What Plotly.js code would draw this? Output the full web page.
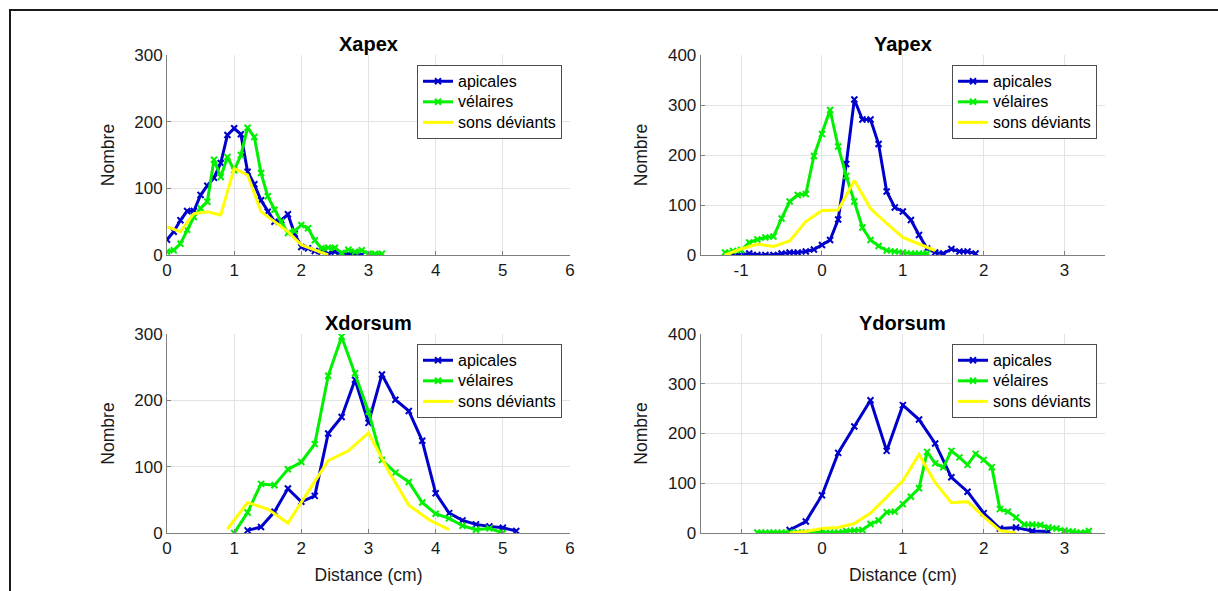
<!DOCTYPE html>
<html>
<head>
<meta charset="utf-8">
<script src="https://cdn.plot.ly/plotly-3.0.1.min.js"></script>
<style>
  html, body { margin: 0; padding: 0; background: #fff; overflow: hidden; }
  #wrap { position: relative; width: 1218px; height: 591px; overflow: hidden; }
  #chart { width: 1218px; height: 591px; }
  #frame { position: absolute; left: 8.5px; top: 8.5px; width: 1300px; height: 700px;
           border-top: 2px solid #1a1a1a; border-left: 2px solid #1a1a1a; pointer-events: none; }
</style>
</head>
<body>
<div id="wrap"><div id="chart"></div><div id="frame"></div></div>
<script>
// ---------- Data ----------
const seriesNames = ["apicales", "vélaires", "sons déviants"];
const panelTitles = ["Xapex", "Yapex", "Xdorsum", "Ydorsum"];
const xLabel = "Distance (cm)";
const yLabel = "Nombre";

// Xapex
const xapex_api_x = [0,0.1,0.2,0.3,0.4,0.5,0.6,0.7,0.8,0.9,1.0,1.1,1.2,1.3,1.4,1.5,1.6,1.7,1.8,1.9,2.0,2.1,2.2,2.3,2.4,2.5,2.6,2.7,2.8,2.9];
const xapex_api_y = [23,35,52,66,66,90,104,116,138,180,190,181,125,106,82,65,50,52,61,32,12,10,6,5,2,5,1,1,0,0];
const xapex_vel_x = [0,0.1,0.2,0.3,0.4,0.5,0.6,0.7,0.8,0.9,1.0,1.1,1.2,1.3,1.4,1.5,1.6,1.7,1.8,1.9,2.0,2.1,2.2,2.3,2.4,2.5,2.6,2.7,2.8,2.9,3.0,3.1,3.2];
const xapex_vel_y = [5,7,17,38,57,70,80,143,117,147,127,150,191,177,123,88,68,50,33,36,45,40,22,10,11,11,3,8,5,7,2,2,2];
const xapex_dev_x = [0,0.2,0.4,0.6,0.8,1.0,1.2,1.4,1.6,1.8,2.0,2.2,2.4];
const xapex_dev_y = [42,35,62,65,60,130,120,65,50,35,15,7,0];

// Yapex
const yapex_api_x = [-1.1,-1.0,-0.9,-0.8,-0.7,-0.6,-0.5,-0.4,-0.3,-0.2,-0.1,0.0,0.1,0.2,0.3,0.4,0.5,0.6,0.7,0.8,0.9,1.0,1.1,1.2,1.3,1.4,1.5,1.6,1.7,1.8,1.9];
const yapex_api_y = [2,0,3,0,0,0,3,5,5,7,11,20,30,71,182,311,271,271,222,127,95,87,70,40,13,5,3,12,7,7,3];
const yapex_vel_x = [-1.2,-1.1,-1.0,-0.9,-0.8,-0.7,-0.6,-0.5,-0.4,-0.3,-0.2,-0.1,0.0,0.1,0.2,0.3,0.4,0.5,0.6,0.7,0.8,0.9,1.0,1.1,1.2,1.3];
const yapex_vel_y = [5,8,10,25,31,35,37,73,107,120,122,198,242,290,217,158,107,55,30,18,9,7,5,3,3,3];
const yapex_dev_x = [-1.2,-1.0,-0.8,-0.6,-0.4,-0.2,0.0,0.2,0.4,0.6,0.8,1.0,1.2,1.4];
const yapex_dev_y = [0,12,22,17,28,67,89,90,149,93,63,35,22,9];

// Xdorsum
const xdors_api_x = [1.2,1.4,1.6,1.8,2.0,2.2,2.4,2.6,2.8,3.0,3.2,3.4,3.6,3.8,4.0,4.2,4.4,4.6,4.8,5.0,5.2];
const xdors_api_y = [4,9,32,67,47,56,150,175,231,166,239,201,184,139,60,30,19,13,10,8,3];
const xdors_vel_x = [1.0,1.2,1.4,1.6,1.8,2.0,2.2,2.4,2.6,2.8,3.0,3.2,3.4,3.6,3.8,4.0,4.2,4.4,4.6,4.8,5.0];
const xdors_vel_y = [0,31,74,72,96,107,134,237,296,241,183,110,91,77,46,29,22,11,5,7,0];
const xdors_dev_x = [0.9,1.2,1.5,1.8,2.1,2.4,2.7,3.0,3.3,3.6,3.9,4.2];
const xdors_dev_y = [6,46,36,15,62,109,124,151,93,42,20,5];

// Ydorsum
const ydors_api_x = [-0.4,-0.2,0.0,0.2,0.4,0.6,0.8,1.0,1.2,1.4,1.6,1.8,2.0,2.2,2.4,2.6,2.8];
const ydors_api_y = [6,23,76,161,214,267,165,257,228,180,112,83,40,9,11,4,3];
const ydors_vel_x = [-0.8,-0.7,-0.6,-0.5,-0.4,-0.3,-0.2,-0.1,0.0,0.1,0.2,0.3,0.4,0.5,0.6,0.7,0.8,0.9,1.0,1.1,1.2,1.3,1.4,1.5,1.6,1.7,1.8,1.9,2.0,2.1,2.2,2.3,2.4,2.5,2.6,2.7,2.8,2.9,3.0,3.1,3.2,3.3];
const ydors_vel_y = [1,1,1,1,1,1,1,1,2,1,1,4,5,6,18,25,42,43,58,73,90,163,140,132,165,152,137,159,147,132,48,43,31,17,17,16,11,9,5,3,1,4];
const ydors_dev_x = [-0.4,-0.2,0.0,0.2,0.4,0.6,0.8,1.0,1.2,1.4,1.6,1.8,2.0,2.2,2.4];
const ydors_dev_y = [0,3,9,11,19,40,72,105,158,101,61,63,33,5,0];

const xTicksLeft = [0,1,2,3,4,5,6];
const xTicksRight = [-1,0,1,2,3];
const yTicks300 = [0,100,200,300];
const yTicks400 = [0,100,200,300,400];

// ---------- Styling ----------
const W = 1218, H = 591;
const FONT = "Liberation Sans, Arial, Helvetica, sans-serif";
const COLORS = ["#0000cc", "#00f000", "#ffff00"];
const TEXT = "#1a1a1a";
const px = v => v / W;
const py = v => 1 - v / H;

const colsPx = [[167, 570], [700.7, 1105]];
const rowsPx = [[55, 255], [334, 533]];

const panels = [
  {xs:[xapex_api_x, xapex_vel_x, xapex_dev_x], ys:[xapex_api_y, xapex_vel_y, xapex_dev_y], col:0, row:0, xr:[0,6], xt:xTicksLeft, yr:[0,300], yt:yTicks300},
  {xs:[yapex_api_x, yapex_vel_x, yapex_dev_x], ys:[yapex_api_y, yapex_vel_y, yapex_dev_y], col:1, row:0, xr:[-1.5,3.5], xt:xTicksRight, yr:[0,400], yt:yTicks400},
  {xs:[xdors_api_x, xdors_vel_x, xdors_dev_x], ys:[xdors_api_y, xdors_vel_y, xdors_dev_y], col:0, row:1, xr:[0,6], xt:xTicksLeft, yr:[0,300], yt:yTicks300},
  {xs:[ydors_api_x, ydors_vel_x, ydors_dev_x], ys:[ydors_api_y, ydors_vel_y, ydors_dev_y], col:1, row:1, xr:[-1.5,3.5], xt:xTicksRight, yr:[0,400], yt:yTicks400},
];

const traces = [];
const layout = {
  width: W, height: H,
  margin: {l:0, r:0, t:0, b:0},
  paper_bgcolor: "#ffffff",
  plot_bgcolor: "#ffffff",
  font: {family: FONT, size: 17, color: TEXT},
  annotations: []
};

panels.forEach((p, i) => {
  const n = i + 1;
  const xa = n === 1 ? "xaxis" : "xaxis" + n;
  const ya = n === 1 ? "yaxis" : "yaxis" + n;
  const lg = n === 1 ? "legend" : "legend" + n;
  const [x0, x1] = colsPx[p.col];
  const [yt, yb] = rowsPx[p.row];
  p.xs.forEach((xv, s) => {
    const t = {
      type: "scatter",
      x: xv, y: p.ys[s],
      name: '<span style="font-size:16px">' + seriesNames[s] + '</span>',
      xaxis: "x" + (n === 1 ? "" : n),
      yaxis: "y" + (n === 1 ? "" : n),
      legend: lg,
      mode: s < 2 ? "lines+markers" : "lines",
      line: {color: COLORS[s], width: 3},
      cliponaxis: true
    };
    if (s < 2) t.marker = {symbol: "x-thin", size: 6, color: COLORS[s], line: {color: COLORS[s], width: 2}};
    traces.push(t);
  });
  const showXTitle = p.row === 1;
  layout[xa] = {
    domain: [px(x0), px(x1)],
    anchor: "y" + (n === 1 ? "" : n),
    range: p.xr, tickvals: p.xt, ticktext: p.xt.map(String),
    showgrid: true, gridcolor: "#e3e3e3", gridwidth: 1,
    zeroline: false, showline: true, linecolor: "#7f7f7f", linewidth: 1, mirror: false,
    ticks: "inside", ticklen: 4, tickcolor: "#7f7f7f",
    tickfont: {family: FONT, size: 17, color: TEXT},
    automargin: false, fixedrange: true,
    title: showXTitle ? {text: xLabel, font: {family: FONT, size: 17.5, color: TEXT}, standoff: 11} : {text: ""}
  };
  layout[ya] = {
    domain: [py(yb), py(yt)],
    anchor: "x" + (n === 1 ? "" : n),
    range: p.yr, tickvals: p.yt, ticktext: p.yt.map(String),
    showgrid: true, gridcolor: "#e3e3e3", gridwidth: 1,
    zeroline: false, showline: true, linecolor: "#7f7f7f", linewidth: 1, mirror: false,
    ticks: "inside", ticklen: 4, tickcolor: "#7f7f7f",
    tickfont: {family: FONT, size: 17, color: TEXT},
    automargin: false, fixedrange: true,
    title: {text: yLabel, font: {family: FONT, size: 17.5, color: TEXT}, standoff: 15}
  };
  layout[lg] = {
    x: px(x1 - 8), xanchor: "right",
    y: py(yt + 10), yanchor: "top",
    bgcolor: "#ffffff", bordercolor: "#4d4d4d", borderwidth: 1,
    font: {family: FONT, size: 13.5, color: "#000000"},
    tracegroupgap: 0, itemwidth: 30
  };
  layout.annotations.push({
    text: "<b>" + panelTitles[i] + "</b>",
    xref: "paper", yref: "paper",
    x: px((x0 + x1) / 2), y: py(yt),
    xanchor: "center", yanchor: "bottom",
    showarrow: false, yshift: -2,
    font: {family: FONT, size: 20, color: "#000000"}
  });
});

Plotly.newPlot("chart", traces, layout, {displayModeBar: false, staticPlot: true});
</script>
</body>
</html>
